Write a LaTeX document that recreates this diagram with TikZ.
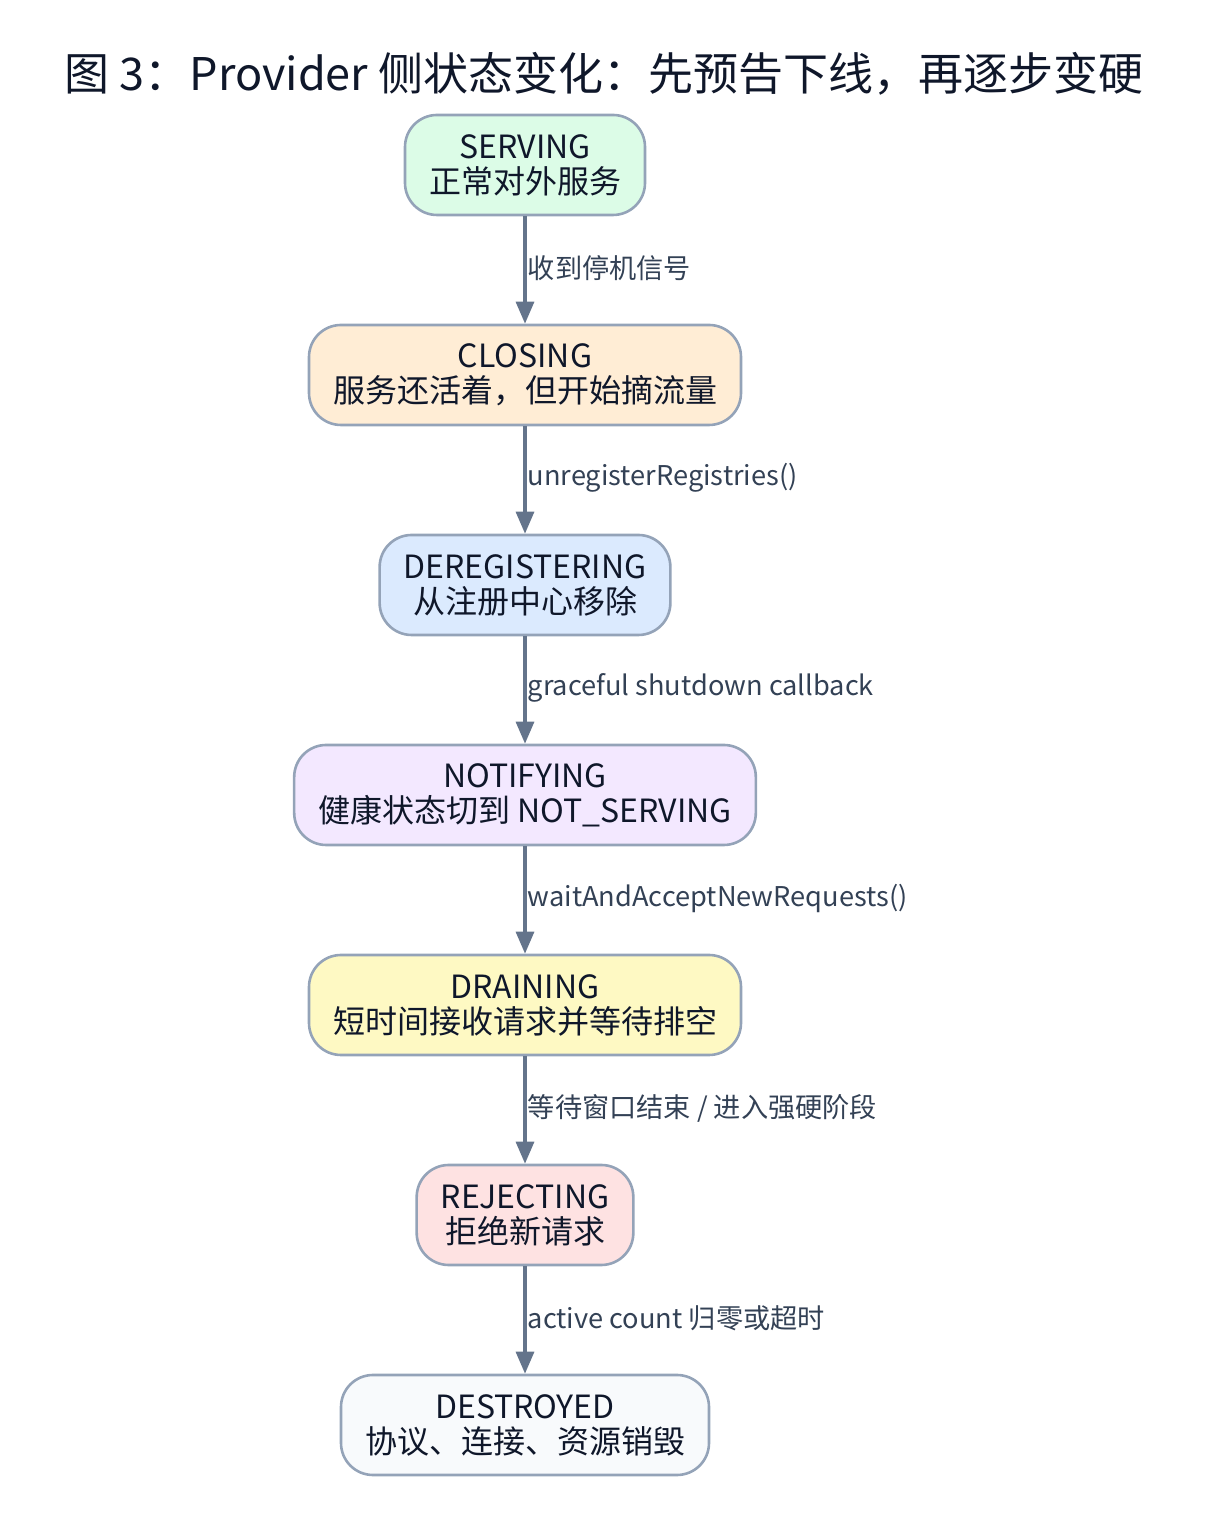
\documentclass[tikz,border=0pt]{standalone}
\usepackage{fontspec}
\setmainfont{Noto Sans CJK SC}
\usepackage{xcolor}
\definecolor{edgegray}{HTML}{64748B}
\definecolor{bordergray}{HTML}{94A3B8}
\definecolor{labelgray}{HTML}{334155}
\definecolor{textdark}{HTML}{0F172A}
\definecolor{fillserving}{HTML}{DCFCE7}
\definecolor{fillclosing}{HTML}{FFEDD5}
\definecolor{filldereg}{HTML}{DBEAFE}
\definecolor{fillnotify}{HTML}{F3E8FF}
\definecolor{filldrain}{HTML}{FEF9C3}
\definecolor{fillreject}{HTML}{FEE2E2}
\definecolor{filldestroy}{HTML}{F8FAFC}
\usetikzlibrary{arrows.meta,positioning}

\begin{document}
\begin{tikzpicture}[
  x=1pt,y=1pt,
  state/.style={draw=bordergray,line width=1.3pt,rounded corners=16pt,
                minimum height=50pt,inner xsep=12pt,align=center,
                text=textdark,font=\fontsize{16}{17.5}\selectfont},
  trans/.style={-{Triangle[length=11pt,width=9pt]},line width=1.6pt,color=edgegray},
  tlabel/.style={midway,anchor=west,inner xsep=0.6pt,yshift=1pt,text=labelgray,
                 font=\fontsize{13.6}{16}\selectfont}
]
\useasboundingbox (0,0) rectangle (604,760);

% Titel
\node[text=textdark,font=\fontsize{22.5}{26}\selectfont] (title) at (302,723)
  {图 3：Provider 侧状态变化：先预告下线，再逐步变硬};

% Zustaende
\node[state,fill=fillserving] (serving) at (262.5,677.5) {SERVING\\正常对外服务};
\node[state,fill=fillclosing] (closing) at (262.5,572.5) {CLOSING\\服务还活着，但开始摘流量};
\node[state,fill=filldereg]   (dereg)   at (262.5,467.5) {DEREGISTERING\\从注册中心移除};
\node[state,fill=fillnotify]  (notify)  at (262.5,362.5) {NOTIFYING\\健康状态切到 NOT\_SERVING};
\node[state,fill=filldrain]   (drain)   at (262.5,257.5) {DRAINING\\短时间接收请求并等待排空};
\node[state,fill=fillreject]  (reject)  at (262.5,152.5) {REJECTING\\拒绝新请求};
\node[state,fill=filldestroy] (destroy) at (262.5,47.5)  {DESTROYED\\协议、连接、资源销毁};

% Uebergaenge
\draw[trans] (serving.south) -- node[tlabel] {收到停机信号} (closing.north);
\draw[trans] (closing.south) -- node[tlabel] {unregisterRegistries()} (dereg.north);
\draw[trans] (dereg.south)   -- node[tlabel] {graceful shutdown callback} (notify.north);
\draw[trans] (notify.south)  -- node[tlabel] {waitAndAcceptNewRequests()} (drain.north);
\draw[trans] (drain.south)   -- node[tlabel] {等待窗口结束 / 进入强硬阶段} (reject.north);
\draw[trans] (reject.south)  -- node[tlabel] {active count 归零或超时} (destroy.north);

\end{tikzpicture}
\end{document}
